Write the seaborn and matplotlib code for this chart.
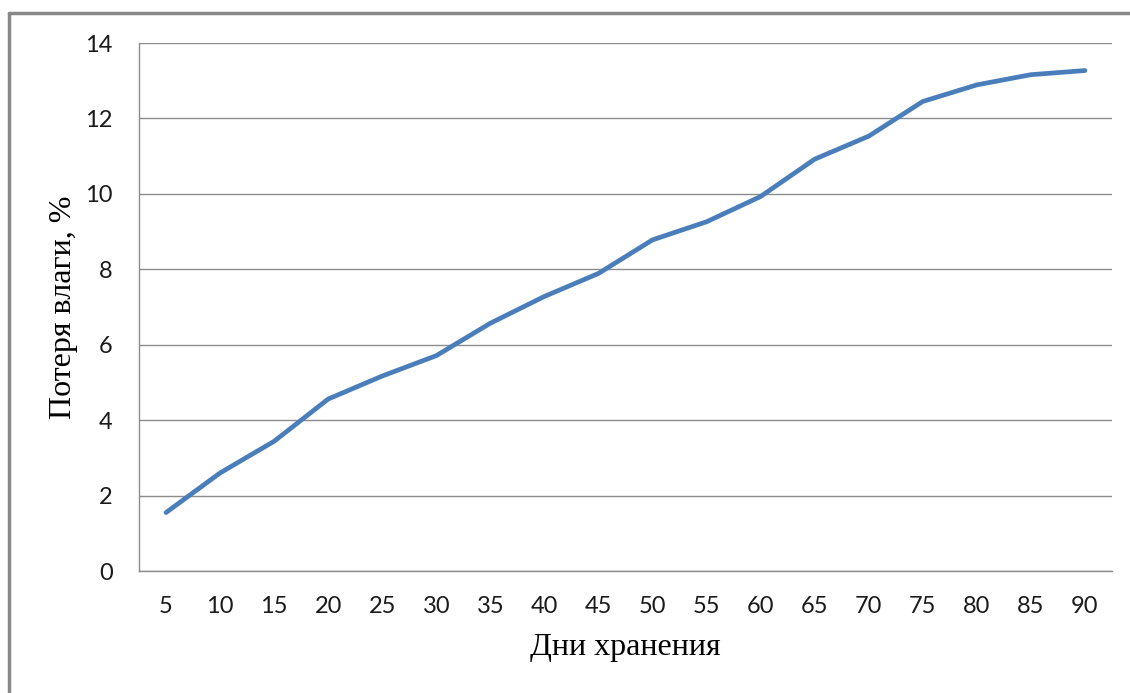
import matplotlib
matplotlib.use("Agg")
import matplotlib.pyplot as plt
import seaborn as sns
import pandas as pd
import numpy as np

days = [5, 10, 15, 20, 25, 30, 35, 40, 45, 50, 55, 60, 65, 70, 75, 80, 85, 90]
loss = [1.55, 2.60, 3.44, 4.56, 5.17, 5.71, 6.57, 7.28, 7.89, 8.78, 9.26,
        9.93, 10.92, 11.53, 12.45, 12.89, 13.16, 13.27]

df = pd.DataFrame({"pos": np.arange(len(days)), "loss": loss})

sns.set_style("white")
grid_col = "#8c8c8c"

fig = plt.figure(figsize=(11.3, 6.93), dpi=100)
ax = fig.add_axes([139 / 1130, 1 - 571 / 693, (1112 - 139) / 1130, (571 - 43) / 693])

sns.lineplot(data=df, x="pos", y="loss", ax=ax, color="#4a7ebb", linewidth=3.4,
             solid_capstyle="round")

ax.set_xlim(-0.5, len(days) - 0.5)
ax.set_ylim(0, 14)
ax.set_yticks(range(0, 15, 2))
ax.yaxis.grid(True, color=grid_col, linewidth=1.0)
ax.set_axisbelow(True)

# category ticks at the boundaries, labels at centres
ax.set_xticks(np.arange(len(days) + 1) - 0.5)
ax.set_xticklabels([])
ax.set_xticks(np.arange(len(days)), minor=True)
ax.set_xticklabels([str(d) for d in days], minor=True)
ax.tick_params(axis="x", which="major", length=8, width=1, color=grid_col, direction="out")
ax.tick_params(axis="x", which="minor", length=0, pad=18, labelsize=17, labelcolor="#1a1a1a")
ax.tick_params(axis="y", length=9, width=1, color=grid_col, direction="out", pad=10,
               labelsize=17, labelcolor="#1a1a1a")
for lab in ax.get_xticklabels(minor=True) + ax.get_yticklabels():
    lab.set_family(["Lato", "DejaVu Sans"])

for s in ["top", "right"]:
    ax.spines[s].set_visible(False)
for s in ["left", "bottom"]:
    ax.spines[s].set_color(grid_col)
    ax.spines[s].set_linewidth(1.0)

ax.set_xlabel("Дни хранения", family="Liberation Serif", fontsize=23, color="black")
ax.set_ylabel("Потеря влаги, %", family="Liberation Serif", fontsize=23, color="black")
ax.xaxis.set_label_coords(0.5, -0.118)
ax.yaxis.set_label_coords(-0.063, 0.5)

# outer chart frame (left and top edges visible in the crop)
fig.add_artist(plt.Line2D([9 / 1130, 9 / 1130], [0, 1 - 13 / 693], color="#888888",
                          linewidth=2.5, transform=fig.transFigure))
fig.add_artist(plt.Line2D([9 / 1130, 1], [1 - 13 / 693, 1 - 13 / 693], color="#888888",
                          linewidth=2.5, transform=fig.transFigure))

fig.savefig("out.png", dpi=100)
plt.close(fig)
